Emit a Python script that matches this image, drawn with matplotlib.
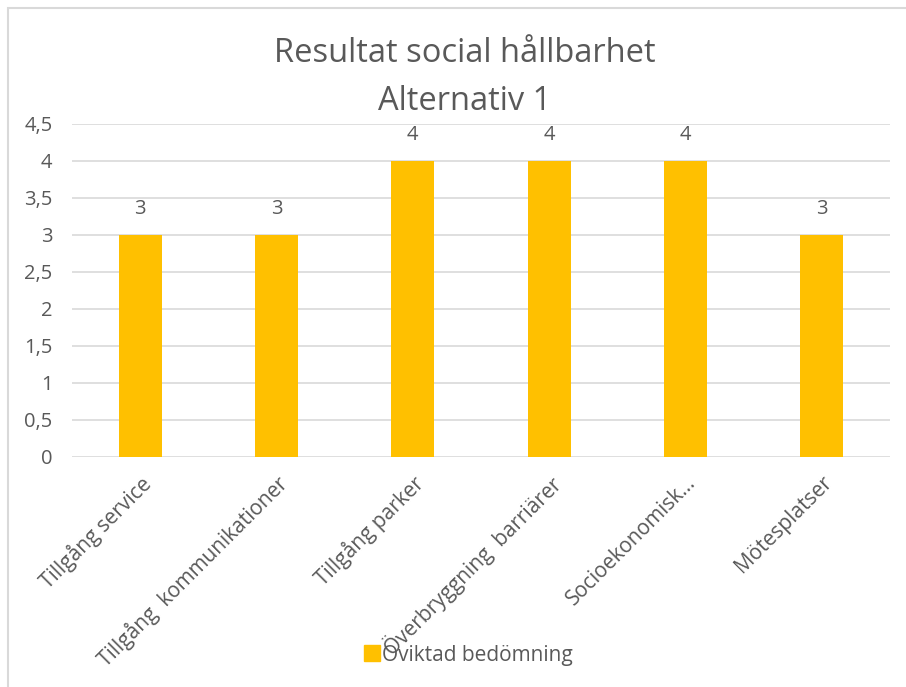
import matplotlib.pyplot as plt
from matplotlib.patches import Rectangle
from matplotlib.lines import Line2D

categories = ["Tillgång service", "Tillgång  kommunikationer", "Tillgång parker",
              "Överbryggning  barriärer", "Socioekonomisk…", "Mötesplatser"]
values = [3, 3, 4, 4, 4, 3]
yticks = [0, 0.5, 1, 1.5, 2, 2.5, 3, 3.5, 4, 4.5]
ytick_labels = ["0", "0,5", "1", "1,5", "2", "2,5", "3", "3,5", "4", "4,5"]
series_name = "Oviktad bedömning"

plt.rcParams['font.family'] = ['Open Sans', 'DejaVu Sans']
txt = "#595959"
bar_color = "#FFC000"

fig = plt.figure(figsize=(9.06, 6.87), dpi=100)

# chart border (left/top visible)
fig.patches.append(Rectangle((8 / 906, -0.1), 1.2, 1 - 8 / 687 + 0.1, transform=fig.transFigure,
                             fill=False, edgecolor="#d9d9d9", linewidth=1.5))

ax = fig.add_axes([72 / 906, 1 - 457 / 687, (890 - 72) / 906, (457 - 124) / 687])
x = range(len(categories))
ax.bar(x, values, width=0.315, color=bar_color, zorder=3)
ax.set_xlim(-0.5, len(categories) - 0.5)
ax.set_ylim(0, 4.5)
ax.set_yticks(yticks)
ax.set_yticklabels(ytick_labels)
ax.grid(axis="y", color="#d9d9d9", linewidth=1.2, zorder=0)
for s in ax.spines.values():
    s.set_visible(False)
ax.tick_params(axis="both", length=0, colors=txt, labelsize=14.5)
ax.tick_params(axis="y", pad=14)
ax.set_xticks(list(x))
ax.set_xticklabels(categories, rotation=45, ha="right", va="top", rotation_mode="anchor",
                   fontsize=15)
ax.tick_params(axis="x", pad=11)

for xi, v in zip(x, values):
    ax.annotate(str(v), (xi, v), xytext=(0, 19), textcoords="offset points",
                ha="center", va="center", fontsize=14.5, color=txt)

fig.text(0.513, 1 - 54 / 687, "Resultat social hållbarhet", ha="center", va="center",
         fontsize=23.5, color=txt)
fig.text(0.513, 1 - 102 / 687, "Alternativ 1", ha="center", va="center",
         fontsize=23.5, color=txt)

handle = Line2D([], [], marker="s", linestyle="none", markersize=11,
                markerfacecolor=bar_color, markeredgecolor=bar_color)
fig.legend([handle], [series_name], loc="center", bbox_to_anchor=(468 / 906, 1 - 655 / 687),
           frameon=False, fontsize=15, handletextpad=0.1, labelcolor=txt, handlelength=0.8)

fig.savefig("out.png", dpi=100)
